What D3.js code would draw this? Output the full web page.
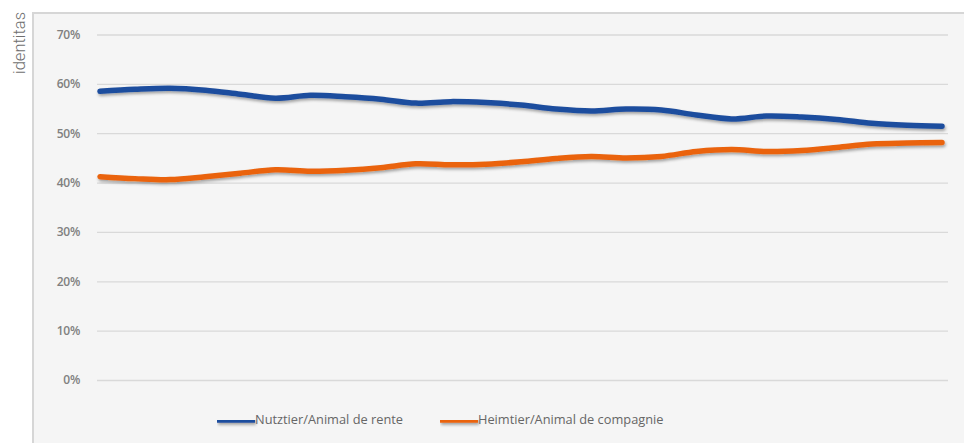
<!DOCTYPE html>
<html>
<head>
<meta charset="utf-8">
<script src="https://cdn.jsdelivr.net/npm/d3@7"></script>
<style>
  body { margin: 0; background: #ffffff; }
  svg { display: block; }
</style>
</head>
<body>
<svg id="chart" width="964" height="443"></svg>
<script>
// chart data
let categories = [1, 2, 3, 4, 5, 6, 7, 8, 9, 10, 11, 12, 13, 14, 15, 16, 17, 18, 19, 20, 21, 22, 23, 24, 25]
let nutztier = [58.5, 58.9, 59.1, 58.7, 57.9, 57.1, 57.7, 57.4, 56.9, 56.1, 56.4, 56.2, 55.7, 54.9, 54.5, 54.9, 54.7, 53.7, 52.9, 53.5, 53.3, 52.8, 52.0, 51.6, 51.4]
let heimtier = [41.2, 40.8, 40.6, 41.2, 41.9, 42.6, 42.3, 42.5, 43.0, 43.8, 43.6, 43.7, 44.2, 44.9, 45.3, 45.0, 45.3, 46.3, 46.7, 46.3, 46.5, 47.1, 47.8, 48.0, 48.1]
let yTicks = [0, 10, 20, 30, 40, 50, 60, 70]
let seriesNames = ['Nutztier/Animal de rente', 'Heimtier/Animal de compagnie']
let seriesColors = ['#1f4e9e', '#ea640f']

let svg = d3.select('#chart')

// shadow like the office chart
let defs = svg.append('defs')
defs.append('filter')
    .attr('id', 'shadow')
    .attr('filterUnits', 'userSpaceOnUse')
    .attr('x', 0).attr('y', 0)
    .attr('width', 964).attr('height', 443)
    .append('feDropShadow')
    .attr('dx', 1).attr('dy', 2)
    .attr('stdDeviation', 1.5)
    .attr('flood-color', '#000')
    .attr('flood-opacity', 0.35)

// side label
svg.append('text')
    .attr('transform', 'translate(25,12) rotate(-90)')
    .attr('text-anchor', 'end')
    .attr('font-family', 'Roboto, "Liberation Sans", sans-serif')
    .attr('font-weight', 300)
    .attr('font-size', 16.5)
    .attr('fill', '#6f6f6f')
    .text('identitas')

// panel
svg.append('rect')
    .attr('x', 33).attr('y', 13)
    .attr('width', 940).attr('height', 440)
    .attr('fill', '#f5f5f5')
    .attr('stroke', '#d6d6d6')
    .attr('stroke-width', 2)

let x = d3.scalePoint()
    .domain(categories)
    .range([100, 942])

let y = d3.scaleLinear()
    .domain([0, 70])
    .range([380, 34.5])

// grid + tick labels
let yAxis = d3.axisLeft(y)
    .tickValues(yTicks)
    .tickSize(-851)
    .tickPadding(17)
    .tickFormat(d => d + '%')

let gy = svg.append('g')
    .attr('transform', 'translate(97,0)')
    .call(yAxis)

gy.select('.domain').remove()
gy.selectAll('.tick line')
    .attr('stroke', '#d9d9d9')
    .attr('stroke-width', 1.3)
gy.selectAll('.tick text')
    .attr('fill', '#808080')
    .attr('font-family', '"Open Sans", "Noto Sans", sans-serif')
    .attr('font-size', 12)
    .attr('font-weight', 600)
    .attr('letter-spacing', -0.3)

// lines
let line = d3.line()
    .x((d, i) => x(categories[i]))
    .y(d => y(d))
    .curve(d3.curveCatmullRom.alpha(0.5))

let series = [nutztier, heimtier]

svg.append('g')
    .selectAll('path')
    .data(series)
    .enter()
    .append('path')
    .attr('d', line)
    .attr('fill', 'none')
    .attr('stroke', (d, i) => seriesColors[i])
    .attr('stroke-width', 5.5)
    .attr('stroke-linecap', 'round')
    .attr('stroke-linejoin', 'round')
    .attr('filter', 'url(#shadow)')

// legend
let legendX = [217, 440]
let legend = svg.append('g')
    .selectAll('g')
    .data(seriesNames)
    .enter()
    .append('g')
    .attr('transform', (d, i) => 'translate(' + legendX[i] + ',420)')

legend.append('rect')
    .attr('x', 0).attr('y', -2.75)
    .attr('width', 38).attr('height', 5.5)
    .attr('fill', (d, i) => seriesColors[i])
    .attr('filter', 'url(#shadow)')

legend.append('text')
    .attr('x', 38)
    .attr('dy', '0.35em')
    .attr('fill', '#666666')
    .attr('font-family', '"Open Sans", "Noto Sans", sans-serif')
    .attr('font-size', 12.8)
    .text(d => d)
</script>
</body>
</html>
